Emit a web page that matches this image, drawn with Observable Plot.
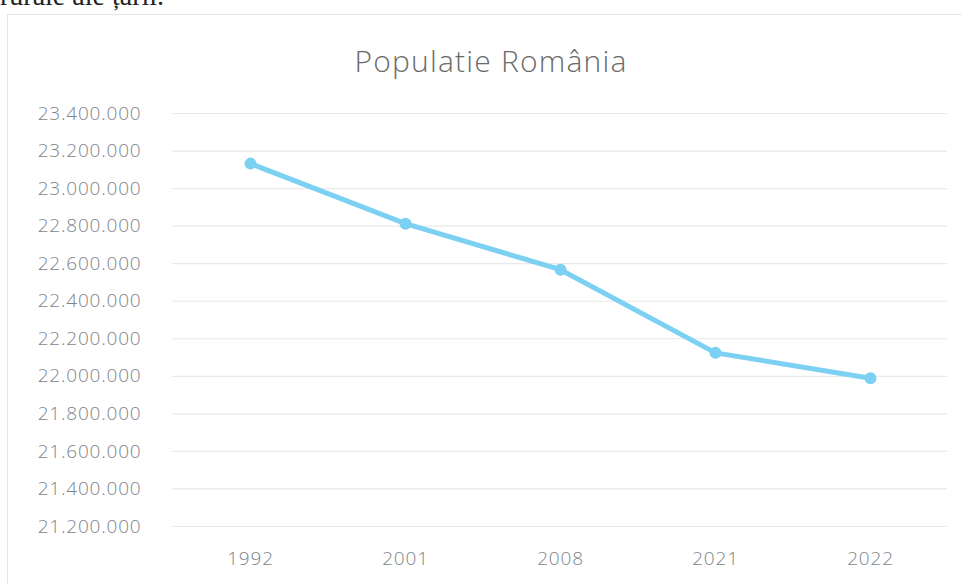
<!DOCTYPE html>
<html>
<head>
<meta charset="utf-8">
<script src="https://cdn.jsdelivr.net/npm/d3@7"></script>
<script src="https://cdn.jsdelivr.net/npm/@observablehq/plot@0.6"></script>
<style>
  html, body { margin: 0; padding: 0; background: #fff; width: 962px; height: 584px; overflow: hidden; position: relative; }
  #fragment { position: absolute; left: 0; top: -20px; font-family: "Liberation Serif", serif; font-size: 28px; color: #222; white-space: nowrap; }
  #frame { position: absolute; left: 7px; top: 14px; width: 960px; height: 580px; border-left: 1px solid #e4e4e4; border-top: 1px solid #e4e4e4; }
  #title { position: absolute; left: 10px; top: 40px; width: 962px; text-align: center; font-family: "Open Sans", Lato, sans-serif; font-weight: 300; font-size: 30px; letter-spacing: 1.2px; color: #6a6a6a; }
  #chart { position: absolute; left: 0; top: 90px; }
</style>
</head>
<body>
<div id="fragment">rurale ale țării.</div>
<div id="frame"></div>
<div id="title">Populatie România</div>
<div id="chart"></div>
<script>
const years = ["1992", "2001", "2008", "2021", "2022"];
const population = [23133000, 22813000, 22568000, 22125000, 21990000];
const yTicks = [21200000, 21400000, 21600000, 21800000, 22000000, 22200000, 22400000, 22600000, 22800000, 23000000, 23200000, 23400000];

const data = years.map((y, i) => ({year: y, value: population[i]}));
const ro = d3.formatLocale({decimal: ",", thousands: ".", grouping: [3], currency: ["", " lei"]});
const fmt = ro.format(",d");

const chart = Plot.plot({
  width: 962,
  height: 494,
  marginTop: 23,
  marginBottom: 58,
  marginLeft: 172,
  marginRight: 15,
  style: {fontFamily: "'Open Sans', Lato, sans-serif", fontSize: "19px", fontWeight: 300, letterSpacing: "0.8px", color: "#7d848a", background: "transparent"},
  x: {type: "point", domain: years, padding: 0.5, label: null},
  y: {domain: [21200000, 23400000], label: null},
  marks: [
    Plot.ruleY(yTicks, {stroke: "#e9e9e9", strokeWidth: 1.2}),
    Plot.axisY({ticks: yTicks, tickFormat: fmt, tickSize: 0, tickPadding: 31, label: null, fill: "#7d848a"}),
    Plot.axisX({tickSize: 0, tickPadding: 25, label: null, fill: "#7d848a"}),
    Plot.line(data, {x: "year", y: "value", stroke: "#7cd0f2", strokeWidth: 5, strokeLinejoin: "round", strokeLinecap: "round"}),
    Plot.dot(data, {x: "year", y: "value", r: 6, fill: "#7cd0f2", stroke: "none"})
  ]
});
document.getElementById("chart").appendChild(chart);
</script>
</body>
</html>
